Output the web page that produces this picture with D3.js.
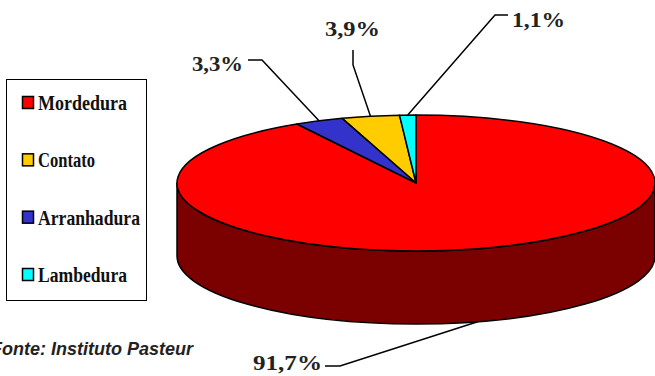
<!DOCTYPE html>
<html><head><meta charset="utf-8">
<script src="https://cdn.jsdelivr.net/npm/d3@7"></script>
<style>html,body{margin:0;padding:0;background:#fff;overflow:hidden}
.serif{font-family:"Liberation Serif", serif;}
.sans{font-family:"Liberation Sans", sans-serif;}
</style>
</head><body>
<svg id="c" width="655" height="376"></svg>
<script>
// ---- data ----
const categories = ["Mordedura", "Contato", "Arranhadura", "Lambedura"];
const values = [91.7, 3.9, 3.3, 1.1];
const valueLabels = ["91,7%", "3,9%", "3,3%", "1,1%"];
const colors = ["#FF0000", "#FFCC00", "#3333CC", "#00FFFF"];
const sliceOrder = ["Mordedura", "Arranhadura", "Contato", "Lambedura"];
const sourceText = "Fonte: Instituto Pasteur";

// ---- layout ----
const cx = 416, cy = 183, rx = 239, ry = 68, depth = 73;
const sideColor = "#7B0000";
const labelLayout = {
  "Mordedura":   {x: 253, y: 370, w: 69, elbow: [[325, 366], [340, 366]], side: true},
  "Arranhadura": {x: 192, y: 71,  w: 51, elbow: [[248, 60], [262, 60]]},
  "Contato":     {x: 325, y: 36,  w: 55, elbow: [[353, 50], [353, 65]]},
  "Lambedura":   {x: 512, y: 27,  w: 53, elbow: [[508, 15], [495, 15]]}
};

const svg = d3.select("#c");
const data = categories.map((c, i) => ({cat: c, value: values[i], label: valueLabels[i], color: colors[i]}));

const pie = d3.pie()
  .value(d => d.value)
  .sort((a, b) => sliceOrder.indexOf(a.cat) - sliceOrder.indexOf(b.cat))
  .startAngle(0).endAngle(2 * Math.PI);
const arcs = pie(data);

const px = a => cx + rx * Math.sin(a);
const py = a => cy - ry * Math.cos(a);

// side (front half visible) - lies entirely within the red slice
const sidePath = `M${cx - rx},${cy} L${cx - rx},${cy + depth} A${rx},${ry} 0 0 0 ${cx + rx},${cy + depth} L${cx + rx},${cy} A${rx},${ry} 0 0 1 ${cx - rx},${cy} Z`;
svg.append("path").attr("d", sidePath)
  .attr("fill", sideColor).attr("stroke", "#000").attr("stroke-width", 1.5).attr("stroke-linejoin", "round");

// top slices
svg.append("g").selectAll("path").data(arcs).join("path")
  .attr("d", d => {
    const large = (d.endAngle - d.startAngle) > Math.PI ? 1 : 0;
    return `M${cx},${cy} L${px(d.startAngle)},${py(d.startAngle)} A${rx},${ry} 0 ${large} 1 ${px(d.endAngle)},${py(d.endAngle)} Z`;
  })
  .attr("fill", d => d.data.color)
  .attr("stroke", "#000").attr("stroke-width", 1.5).attr("stroke-linejoin", "round");

// labels + leader lines
const lab = svg.append("g");
arcs.forEach(d => {
  const L = labelLayout[d.data.cat];
  const m = (d.startAngle + d.endAngle) / 2;
  const end = L.side ? [px(m), py(m) + depth] : [px(m), py(m)];
  lab.append("path").attr("d", d3.line()([L.elbow[0], L.elbow[1], end]))
    .attr("fill", "none").attr("stroke", "#000").attr("stroke-width", 1.5);
  lab.append("text").attr("class", "serif").attr("x", L.x).attr("y", L.y)
    .attr("font-weight", "bold").attr("font-size", 22).attr("fill", "#222")
    .attr("textLength", L.w).attr("lengthAdjust", "spacingAndGlyphs")
    .text(d.data.label);
});

// legend
const lg = svg.append("g");
lg.append("rect").attr("x", 6.5).attr("y", 79.5).attr("width", 140).attr("height", 221)
  .attr("fill", "#fff").attr("stroke", "#000").attr("stroke-width", 1);
const legW = {"Mordedura": 89, "Contato": 57, "Arranhadura": 102, "Lambedura": 89};
const legY = d3.scalePoint().domain(categories).range([110, 282]);
categories.forEach((c, i) => {
  const y = legY(c);
  lg.append("rect").attr("x", 22.5).attr("y", y - 13.5).attr("width", 11).attr("height", 12)
    .attr("fill", colors[i]).attr("stroke", "#000").attr("stroke-width", 1.5);
  lg.append("text").attr("class", "serif").attr("x", 38).attr("y", y)
    .attr("font-weight", "bold").attr("font-size", 20).attr("fill", "#111")
    .attr("textLength", legW[c]).attr("lengthAdjust", "spacingAndGlyphs")
    .text(c);
});

// source
svg.append("text").attr("class", "sans").attr("x", 193).attr("y", 355).attr("text-anchor", "end")
  .attr("font-weight", "bold").attr("font-style", "italic").attr("font-size", 18).attr("fill", "#222")
  .text(sourceText);
</script>
</body></html>
